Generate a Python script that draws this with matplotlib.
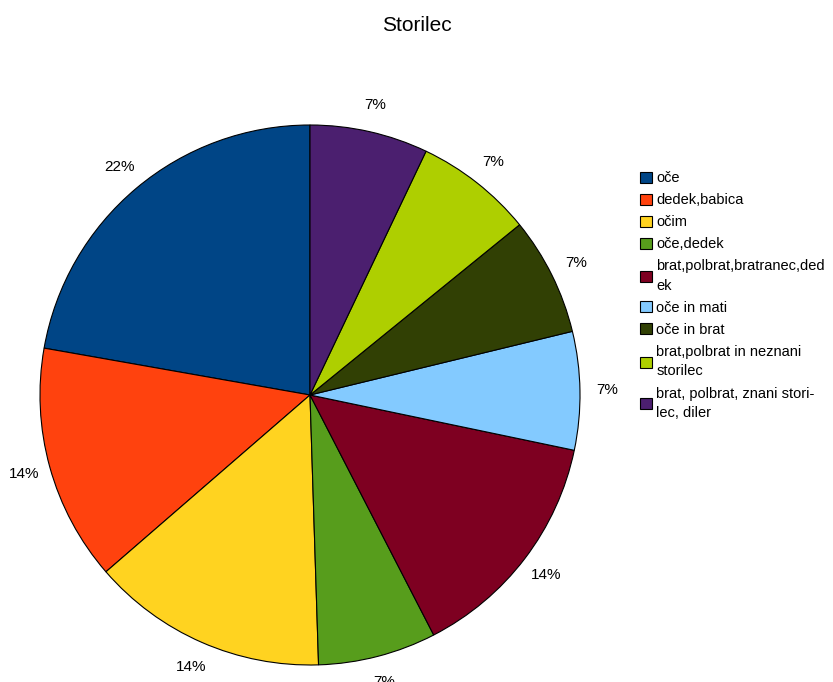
import matplotlib.pyplot as plt

plt.rcParams['font.family'] = ['Liberation Sans', 'DejaVu Sans']

labels = ["oče", "dedek,babica", "očim", "oče,dedek",
          "brat,polbrat,bratranec,ded\nek", "oče in mati", "oče in brat",
          "brat,polbrat in neznani\nstorilec", "brat, polbrat, znani stori-\nlec, diler"]
values = [22, 14, 14, 7, 14, 7, 7, 7, 7]
colors = ['#004586', '#ff420e', '#ffd320', '#579d1c', '#7e0021',
          '#83caff', '#314004', '#aecf00', '#4b1f6f']

fig = plt.figure(figsize=(8.33, 6.82), dpi=100)
ax = fig.add_axes([40/833, 17/682, 540/833, 540/682])

wedges, texts, autotexts = ax.pie(values, colors=colors, startangle=90, counterclock=True,
                                  autopct='%d%%', pctdistance=1.1, radius=1,
                                  wedgeprops=dict(edgecolor='black', linewidth=0.8))
for t in autotexts:
    t.set_fontsize(11)
    t.set_clip_on(False)
ax.set_xlim(-1, 1)
ax.set_ylim(-1, 1)
ax.set_aspect('equal')

fig.text(0.5, 0.963, "Storilec", ha='center', va='center', fontsize=15)

leg = fig.legend(wedges, labels, loc='upper left', bbox_to_anchor=(0.753, 0.768),
                 frameon=False, fontsize=10.5, handlelength=0.8, handleheight=0.8,
                 handletextpad=0.3, labelspacing=0.55)
for t in leg.get_texts():
    t.set_linespacing(1.5)

fig.savefig('out.png', dpi=100)
